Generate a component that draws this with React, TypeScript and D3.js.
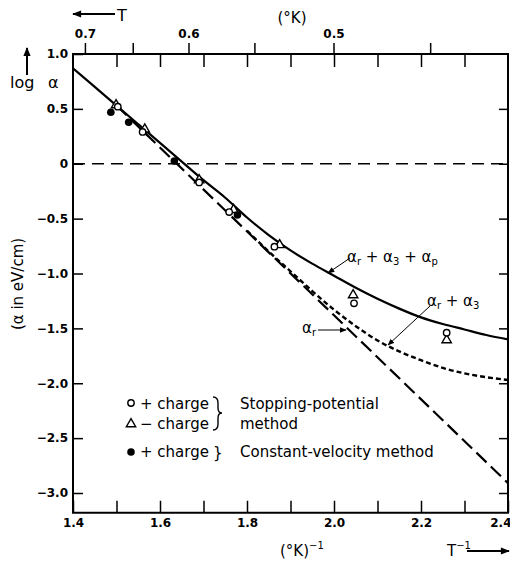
import * as d3 from "d3";
import {useEffect, useRef} from "react";

// T^-1 grid for the curves
const invT = [1.4, 1.45, 1.5, 1.55, 1.6, 1.65, 1.7, 1.75, 1.8, 1.85, 1.9, 1.95, 2.0, 2.05, 2.1, 2.15, 2.2, 2.25, 2.3, 2.35, 2.4];
// alpha_r + alpha_3 + alpha_p (solid)
const logTotal = [0.87, 0.70, 0.53, 0.36, 0.19, 0.02, -0.15, -0.31, -0.49, -0.65, -0.79, -0.91, -1.02, -1.13, -1.23, -1.32, -1.40, -1.46, -1.51, -1.56, -1.60];
// alpha_r (long dash, straight)
const invTr = [1.5, 2.4];
const logR = [0.53, -2.91];
// alpha_r + alpha_3 (short dash)
const invTr3 = [1.8, 1.85, 1.9, 1.95, 2.0, 2.05, 2.1, 2.15, 2.2, 2.25, 2.3, 2.35, 2.4];
const logR3 = [-0.61, -0.80, -0.98, -1.16, -1.33, -1.48, -1.61, -1.71, -1.79, -1.86, -1.91, -1.945, -1.97];

// measured points
const plusStopX = [1.503, 1.56, 1.69, 1.759, 1.863, 2.046, 2.259];
const plusStopY = [0.52, 0.29, -0.17, -0.44, -0.756, -1.272, -1.54];
const minusStopX = [1.499, 1.565, 1.69, 1.769, 1.875, 2.044, 2.259];
const minusStopY = [0.535, 0.314, -0.148, -0.42, -0.74, -1.196, -1.606];
const plusVelX = [1.487, 1.528, 1.633, 1.778];
const plusVelY = [0.469, 0.378, 0.025, -0.467];

const yTicks = [1.0, 0.5, 0, -0.5, -1.0, -1.5, -2.0, -2.5, -3.0];
const yTickLabels = ["1.0", "0.5", "0", "\u22120.5", "\u22121.0", "\u22121.5", "\u22122.0", "\u22122.5", "\u22123.0"];
const xTicks = [1.4, 1.5, 1.6, 1.7, 1.8, 1.9, 2.0, 2.1, 2.2, 2.3, 2.4];
const xTickLabels = ["1.4", "", "1.6", "", "1.8", "", "2.0", "", "2.2", "", "2.4"];
const tTicks = [0.7, 0.65, 0.6, 0.55, 0.5, 0.45];
const tTickLabels = ["0.7", "", "0.6", "", "0.5", ""];

const FONT = "DejaVu Sans, sans-serif";

const App = () => {
    const chartRef = useRef(null);

    const width = 510;
    const height = 562;
    const yBottom = -3.18;

    useEffect(() => {
        const svg = d3.select(chartRef.current);
        svg.selectAll("*").remove();

        const x = d3.scaleLinear().domain([1.4, 2.4]).range([73, 508]);
        const y = d3.scaleLinear().domain([1.0, -3.0]).range([54, 493]);

        const left = x(1.4), right = x(2.4), top = y(1.0), bottom = y(yBottom);

        const defs = svg.append("defs");
        defs.append("clipPath").attr("id", "plotclip")
            .append("rect")
            .attr("x", left).attr("y", top)
            .attr("width", right - left).attr("height", bottom - top);
        defs.append("marker")
            .attr("id", "head")
            .attr("viewBox", "0 0 10 10")
            .attr("refX", 9).attr("refY", 5)
            .attr("markerWidth", 7).attr("markerHeight", 7)
            .attr("markerUnits", "userSpaceOnUse")
            .attr("orient", "auto")
            .append("path").attr("d", "M0,1 L10,5 L0,9 z").attr("fill", "#000");
        defs.append("marker")
            .attr("id", "bighead")
            .attr("viewBox", "0 0 10 10")
            .attr("refX", 9).attr("refY", 5)
            .attr("markerWidth", 11).attr("markerHeight", 9)
            .attr("markerUnits", "userSpaceOnUse")
            .attr("orient", "auto")
            .append("path").attr("d", "M0,1 L10,5 L0,9 z").attr("fill", "#000");

        // left axis
        const yAxis = d3.axisLeft(y)
            .tickValues(yTicks)
            .tickSize(-10)
            .tickPadding(5)
            .tickFormat((d, i) => yTickLabels[i]);
        const gl = svg.append("g").attr("transform", `translate(${left},0)`).call(yAxis);
        gl.select(".domain").remove();

        // right axis, inward ticks only
        const gr = svg.append("g").attr("transform", `translate(${right},0)`)
            .call(d3.axisRight(y).tickValues(yTicks.slice(1)).tickSize(-9).tickFormat(() => ""));
        gr.select(".domain").remove();

        // bottom axis
        const gb = svg.append("g").attr("transform", `translate(0,${bottom})`)
            .call(d3.axisBottom(x).tickValues(xTicks).tickSize(-12).tickPadding(6)
                .tickFormat((d, i) => xTickLabels[i]));
        gb.select(".domain").remove();
        // last label sits against the page edge
        gb.selectAll(".tick text").filter(d => d === 2.4)
            .attr("text-anchor", "end").attr("dx", 3);

        // top: inward T^-1 ticks
        const gt = svg.append("g").attr("transform", `translate(0,${top})`)
            .call(d3.axisTop(x).tickValues(xTicks.slice(1, -1)).tickSize(-13).tickFormat(() => ""));
        gt.select(".domain").remove();

        // top: outward T ticks
        svg.append("g").selectAll("line")
            .data(tTicks)
            .enter()
            .append("line")
            .attr("x1", d => x(1 / d)).attr("x2", d => x(1 / d))
            .attr("y1", top).attr("y2", top - 11)
            .attr("stroke", "#000").attr("stroke-width", 1.5);
        svg.append("g").selectAll("text")
            .data(tTicks)
            .enter()
            .append("text")
            .attr("x", d => x(1 / d))
            .attr("y", 38)
            .attr("text-anchor", "middle")
            .text((d, i) => tTickLabels[i]);

        svg.selectAll(".tick line").attr("stroke-width", 1.5);
        svg.selectAll("g text")
            .style("font-family", FONT)
            .style("font-size", "12px")
            .style("font-weight", "bold")
            .attr("fill", "#000");

        // frame
        svg.append("rect")
            .attr("x", left).attr("y", top)
            .attr("width", right - left).attr("height", bottom - top)
            .attr("fill", "none").attr("stroke", "#000").attr("stroke-width", 2);

        // zero line
        svg.append("line")
            .attr("x1", left).attr("x2", right)
            .attr("y1", y(0)).attr("y2", y(0))
            .attr("stroke", "#000").attr("stroke-width", 1.3)
            .attr("stroke-dasharray", "12,7");

        const plot = svg.append("g").attr("clip-path", "url(#plotclip)");
        const line = d3.line().curve(d3.curveMonotoneX);

        plot.append("path")
            .attr("d", line(invT.map((v, i) => [x(v), y(logTotal[i])])))
            .attr("fill", "none").attr("stroke", "#000").attr("stroke-width", 2.2);
        plot.append("path")
            .attr("d", line(invTr.map((v, i) => [x(v), y(logR[i])])))
            .attr("fill", "none").attr("stroke", "#000").attr("stroke-width", 2.2)
            .attr("stroke-dasharray", "14,6");
        plot.append("path")
            .attr("d", line(invTr3.map((v, i) => [x(v), y(logR3[i])])))
            .attr("fill", "none").attr("stroke", "#000").attr("stroke-width", 2.4)
            .attr("stroke-dasharray", "5,3");

        // points
        const tri = d3.symbol(d3.symbolTriangle, 38);
        plot.selectAll(".tri")
            .data(minusStopX)
            .enter()
            .append("path")
            .attr("d", tri())
            .attr("transform", (d, i) => `translate(${x(d)},${y(minusStopY[i])})`)
            .attr("fill", "#fff").attr("stroke", "#000").attr("stroke-width", 1.4);
        plot.selectAll(".open")
            .data(plusStopX)
            .enter()
            .append("circle")
            .attr("cx", d => x(d))
            .attr("cy", (d, i) => y(plusStopY[i]))
            .attr("r", 3.2)
            .attr("fill", "#fff").attr("stroke", "#000").attr("stroke-width", 1.4);
        plot.selectAll(".filled")
            .data(plusVelX)
            .enter()
            .append("circle")
            .attr("cx", d => x(d))
            .attr("cy", (d, i) => y(plusVelY[i]))
            .attr("r", 3.8)
            .attr("fill", "#000");

        const txt = (xx, yy, size, anchor = "start") => svg.append("text")
            .attr("x", xx).attr("y", yy)
            .attr("text-anchor", anchor)
            .style("font-family", FONT)
            .style("font-size", `${size}px`)
            .attr("fill", "#000");

        // curve labels
        const lab1 = txt(347, 262, 15);
        lab1.append("tspan").text("\u03b1");
        lab1.append("tspan").attr("dy", 3).style("font-size", "10px").text("r");
        lab1.append("tspan").attr("dy", -3).text(" + \u03b1");
        lab1.append("tspan").attr("dy", 3).style("font-size", "10px").text("3");
        lab1.append("tspan").attr("dy", -3).text(" + \u03b1");
        lab1.append("tspan").attr("dy", 3).style("font-size", "10px").text("p");
        svg.append("line")
            .attr("x1", 350).attr("y1", 258).attr("x2", 328).attr("y2", 273)
            .attr("stroke", "#000").attr("stroke-width", 1).attr("marker-end", "url(#head)");

        const lab2 = txt(427, 306, 15);
        lab2.append("tspan").text("\u03b1");
        lab2.append("tspan").attr("dy", 3).style("font-size", "10px").text("r");
        lab2.append("tspan").attr("dy", -3).text(" + \u03b1");
        lab2.append("tspan").attr("dy", 3).style("font-size", "10px").text("3");
        svg.append("line")
            .attr("x1", 430).attr("y1", 306).attr("x2", 388).attr("y2", 345)
            .attr("stroke", "#000").attr("stroke-width", 1).attr("marker-end", "url(#head)");

        const lab3 = txt(302, 333, 15);
        lab3.append("tspan").text("\u03b1");
        lab3.append("tspan").attr("dy", 3).style("font-size", "10px").text("r");
        svg.append("line")
            .attr("x1", 318).attr("y1", 330).attr("x2", 346).attr("y2", 330)
            .attr("stroke", "#000").attr("stroke-width", 1).attr("marker-end", "url(#head)");

        // legend
        svg.append("circle").attr("cx", 131).attr("cy", 403).attr("r", 3.2)
            .attr("fill", "#fff").attr("stroke", "#000").attr("stroke-width", 1.4);
        svg.append("path").attr("d", tri()).attr("transform", "translate(131,424)")
            .attr("fill", "#fff").attr("stroke", "#000").attr("stroke-width", 1.4);
        svg.append("circle").attr("cx", 131).attr("cy", 452).attr("r", 3.8).attr("fill", "#000");
        txt(140, 409, 15).text("+ charge");
        txt(140, 429, 15).text("\u2212 charge");
        txt(140, 457, 15).text("+ charge");
        svg.append("path")
            .attr("d", "M213,397 Q218,397 218,403 L218,408 Q218,413 222,413 Q218,413 218,418 L218,424 Q218,430 213,430")
            .attr("fill", "none").attr("stroke", "#000").attr("stroke-width", 1.4);
        txt(213, 458, 15).text("}");
        txt(240, 409, 15).text("Stopping-potential");
        txt(240, 429, 15).text("method");
        txt(240, 457, 15).text("Constant-velocity method");

        // axis titles
        txt(10, 88, 16).text("log");
        txt(48, 88, 16).text("\u03b1");
        svg.append("line")
            .attr("x1", 27).attr("y1", 75).attr("x2", 27).attr("y2", 48)
            .attr("stroke", "#000").attr("stroke-width", 2).attr("marker-end", "url(#bighead)");
        txt(0, 0, 15).attr("text-anchor", "middle")
            .attr("transform", "translate(23,284) rotate(-90)")
            .text("(\u03b1 in eV/cm)");

        svg.append("line")
            .attr("x1", 115).attr("y1", 14).attr("x2", 73).attr("y2", 14)
            .attr("stroke", "#000").attr("stroke-width", 2).attr("marker-end", "url(#bighead)");
        txt(117, 21, 16).text("T");
        txt(292, 23, 15, "middle").text("(\u00b0K)");

        const bt = txt(280, 556, 15);
        bt.append("tspan").text("(\u00b0K)");
        bt.append("tspan").attr("dy", -7).style("font-size", "10px").text("\u22121");
        const tt = txt(447, 556, 15);
        tt.append("tspan").text("T");
        tt.append("tspan").attr("dy", -7).style("font-size", "10px").text("\u22121");
        svg.append("line")
            .attr("x1", 467).attr("y1", 551).attr("x2", 509).attr("y2", 551)
            .attr("stroke", "#000").attr("stroke-width", 2).attr("marker-end", "url(#bighead)");
    }, []);

    return (
        <svg ref={chartRef} width={width} height={height}
             style={{position: "absolute", left: 0, top: 0, background: "#fff"}}></svg>
    );
};

export default App;
